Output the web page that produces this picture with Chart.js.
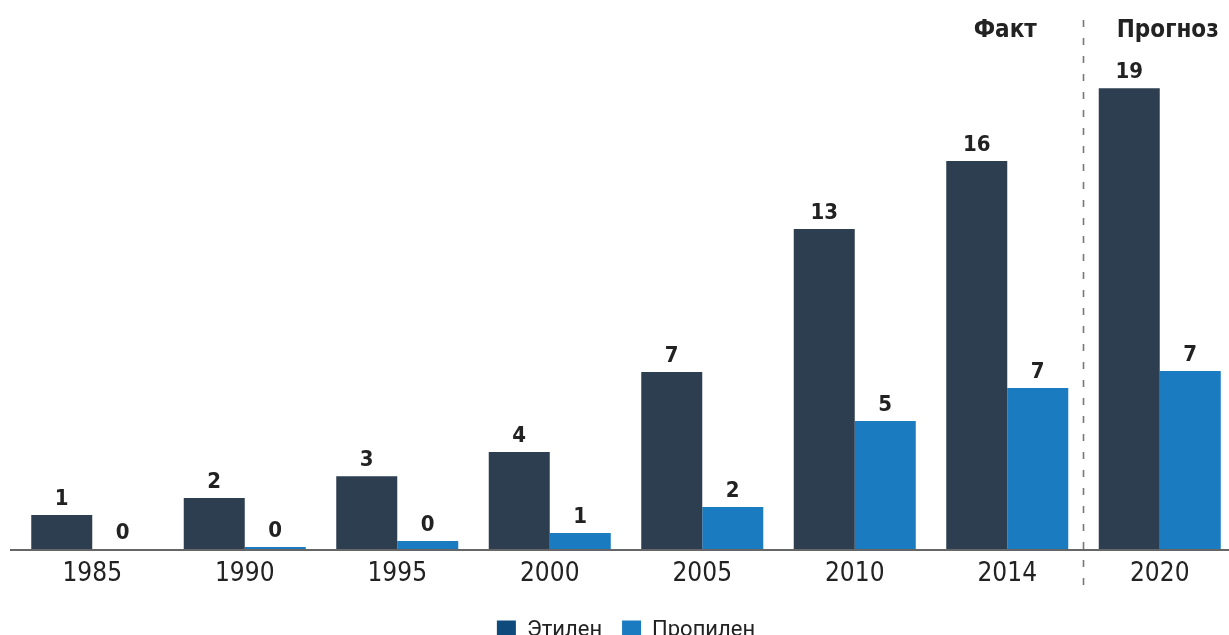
<!DOCTYPE html>
<html lang="ru">
<head>
<meta charset="utf-8">
<script src="https://cdn.jsdelivr.net/npm/chart.js@4.4.1/dist/chart.umd.min.js"></script>
<style>
  html, body { margin: 0; padding: 0; background: #fff; overflow: hidden; }
  #wrap { position: relative; width: 1240px; height: 660px; }
</style>
</head>
<body>
<div id="wrap"><canvas id="chart"></canvas></div>
<script>
/* ---------- data ---------- */
const years = ['1985', '1990', '1995', '2000', '2005', '2010', '2014', '2020'];
const ethylene  = [1.4, 2.1, 3.0, 4.0, 7.3, 13.2, 16.0, 19.0];
const propylene = [0, 0.08, 0.33, 0.66, 1.73, 5.28, 6.64, 7.34];
const seriesNames = ['Этилен', 'Пропилен'];
const periodLabels = ['Факт', 'Прогноз'];

const barColors = ['#2c3e50', '#1a7bc0'];
const legendColors = ['#0f4a7c', '#1a7bc0'];
const narrow = '"Liberation Sans Narrow", "DejaVu Sans Condensed", Roboto, sans-serif';

/* ---------- labels, baseline, fact/forecast split ---------- */
const overlay = {
  id: 'overlay',
  afterDatasetsDraw(chart) {
    const { ctx, chartArea, scales: { x } } = chart;
    ctx.save();

    // axis line
    ctx.strokeStyle = '#666';
    ctx.lineWidth = 2;
    ctx.beginPath();
    ctx.moveTo(10, chartArea.bottom + 1);
    ctx.lineTo(chartArea.right, chartArea.bottom + 1);
    ctx.stroke();

    // value labels above bars
    ctx.font = 'bold 22px ' + narrow;
    ctx.fillStyle = '#222';
    ctx.textAlign = 'center';
    ctx.textBaseline = 'alphabetic';
    chart.data.datasets.forEach((ds, i) => {
      chart.getDatasetMeta(i).data.forEach((bar, j) => {
        ctx.fillText(String(Math.round(ds.data[j])), bar.x, bar.y - 10);
      });
    });

    // dashed separator between 2014 and 2020
    const sepX = (x.getPixelForValue(6) + x.getPixelForValue(7)) / 2;
    ctx.setLineDash([7, 11]);
    ctx.strokeStyle = '#777';
    ctx.lineWidth = 1.6;
    ctx.beginPath();
    ctx.moveTo(sepX, 20);
    ctx.lineTo(sepX, 592);
    ctx.stroke();
    ctx.setLineDash([]);

    // period headers
    ctx.font = 'bold 24px ' + narrow;
    ctx.fillText(periodLabels[0], x.getPixelForValue(6) - 2, 37);
    ctx.fillText(periodLabels[1], x.getPixelForValue(7) + 8, 37);

    ctx.restore();
  }
};

new Chart(document.getElementById('chart'), {
  type: 'bar',
  data: {
    labels: years,
    datasets: [
      { label: seriesNames[0], data: ethylene, backgroundColor: barColors[0] },
      { label: seriesNames[1], data: propylene, backgroundColor: barColors[1] }
    ]
  },
  options: {
    responsive: true,
    maintainAspectRatio: false,
    animation: false,
    layout: { padding: { left: 16, right: 4, top: 64, bottom: 9 } },
    datasets: { bar: { categoryPercentage: 0.8, barPercentage: 1.0 } },
    scales: {
      x: {
        grid: { display: false, drawTicks: false },
        border: { display: false },
        ticks: { color: '#222', font: { family: narrow, size: 26, lineHeight: 1.0 }, padding: 12 }
      },
      y: { display: false, min: 0, max: 20 }
    },
    plugins: {
      tooltip: { enabled: false },
      legend: {
        position: 'bottom',
        labels: {
          color: '#222',
          font: { family: 'Roboto', size: 22 },
          boxWidth: 19,
          boxHeight: 19,
          padding: 20,
          generateLabels(chart) {
            return chart.data.datasets.map((ds, i) => ({
              text: ds.label,
              fillStyle: legendColors[i],
              strokeStyle: legendColors[i],
              lineWidth: 0,
              fontColor: '#222',
              datasetIndex: i
            }));
          }
        }
      }
    }
  },
  plugins: [overlay]
});
</script>
</body>
</html>
